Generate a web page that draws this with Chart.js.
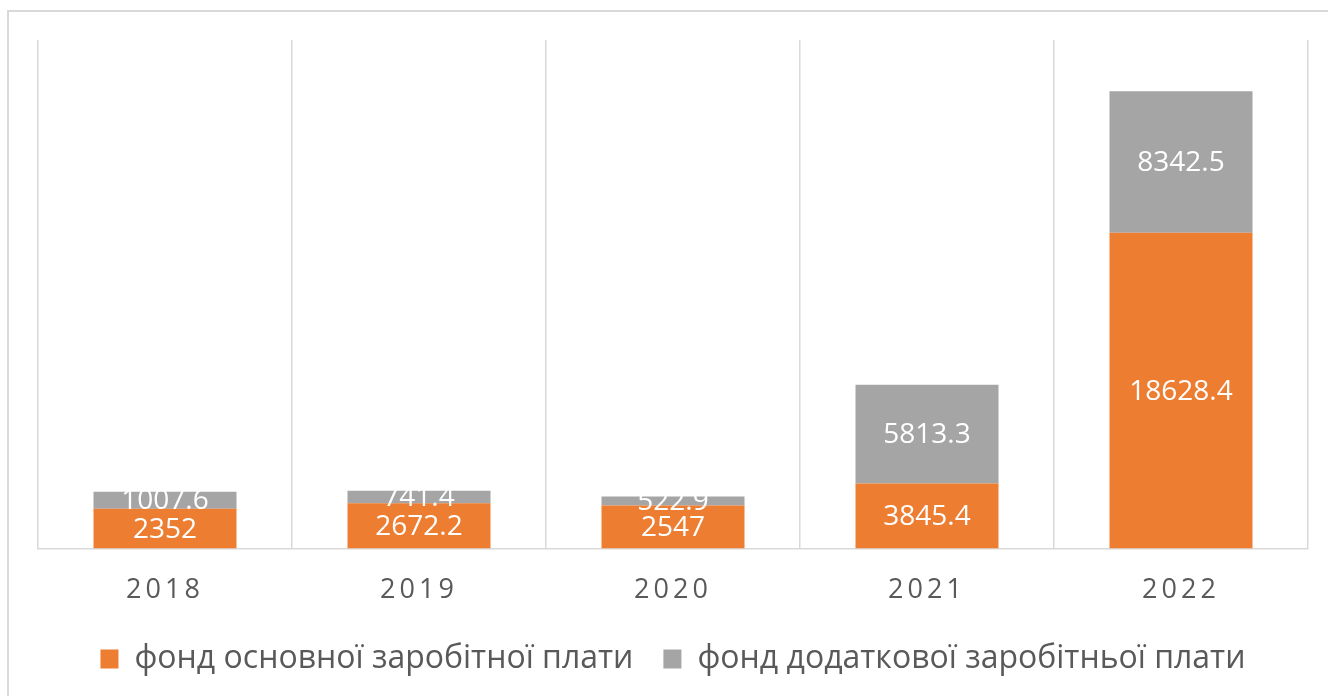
<!DOCTYPE html>
<html>
<head>
<meta charset="utf-8">
<script src="https://cdn.jsdelivr.net/npm/chart.js@4/dist/chart.umd.min.js"></script>
<style>
    html, body { margin: 0; padding: 0; overflow: hidden; background: #fff; }
    #frame { position: absolute; left: 7px; top: 10px; width: 1400px; height: 800px; border: 2px solid #d9d9d9; }
    #wrap { position: absolute; left: 0; top: 0; width: 1328px; height: 696px; }
</style>
</head>
<body>
<div id="frame"></div>
<div id="wrap"><canvas id="salaryChart"></canvas></div>
<script>
const years = ["2018", "2019", "2020", "2021", "2022"];
const baseFund = [2352, 2672.2, 2547, 3845.4, 18628.4];
const extraFund = [1007.6, 741.4, 522.9, 5813.3, 8342.5];
const seriesNames = ["фонд основної заробітної плати", "фонд додаткової заробітньої плати"];

const FONT = "'Open Sans', 'DejaVu Sans', sans-serif";

// white value labels in the middle of every segment, then letter spacing for x ticks
const segmentLabels = {
    id: "segmentLabels",
    afterDatasetsDraw(chart) {
        const ctx = chart.ctx;
        ctx.save();
        ctx.fillStyle = "#ffffff";
        ctx.font = "28px " + FONT;
        ctx.textAlign = "center";
        ctx.textBaseline = "middle";
        chart.data.datasets.forEach((ds, i) => {
            chart.getDatasetMeta(i).data.forEach((bar, j) => {
                ctx.fillText(String(ds.data[j]), bar.x, (bar.y + bar.base) / 2 + 1);
            });
        });
        ctx.restore();
        ctx.letterSpacing = "4px";
    },
    afterDraw(chart) {
        chart.ctx.letterSpacing = "0px";
    }
};

new Chart(document.getElementById("salaryChart"), {
    type: "bar",
    data: {
        labels: years,
        datasets: [{
            label: seriesNames[0],
            data: baseFund,
            backgroundColor: "#ED7D31",
            categoryPercentage: 1,
            barPercentage: 0.563
        }, {
            label: seriesNames[1],
            data: extraFund,
            backgroundColor: "#A5A5A5",
            categoryPercentage: 1,
            barPercentage: 0.563
        }]
    },
    options: {
        responsive: true,
        maintainAspectRatio: false,
        animation: false,
        layout: { padding: { left: 38, right: 20, top: 40, bottom: 11 } },
        scales: {
            x: {
                stacked: true,
                offset: true,
                grid: { color: "#d9d9d9", lineWidth: 1.5, offset: true, drawTicks: false },
                border: { color: "#d9d9d9", width: 1.5 },
                ticks: { color: "#595959", font: { family: FONT, size: 27 }, padding: 26, z: 1 },
                afterFit(scale) {
                    // let the legend sit closer to the year labels
                    scale.height -= 20;
                }
            },
            y: {
                stacked: true,
                display: false,
                min: 0,
                max: 30000
            }
        },
        plugins: {
            legend: {
                position: "bottom",
                labels: {
                    color: "#595959",
                    font: { family: FONT, size: 32 },
                    boxWidth: 18,
                    boxHeight: 19,
                    padding: 30
                }
            },
            tooltip: { enabled: false }
        }
    },
    plugins: [segmentLabels]
});
</script>
</body>
</html>
